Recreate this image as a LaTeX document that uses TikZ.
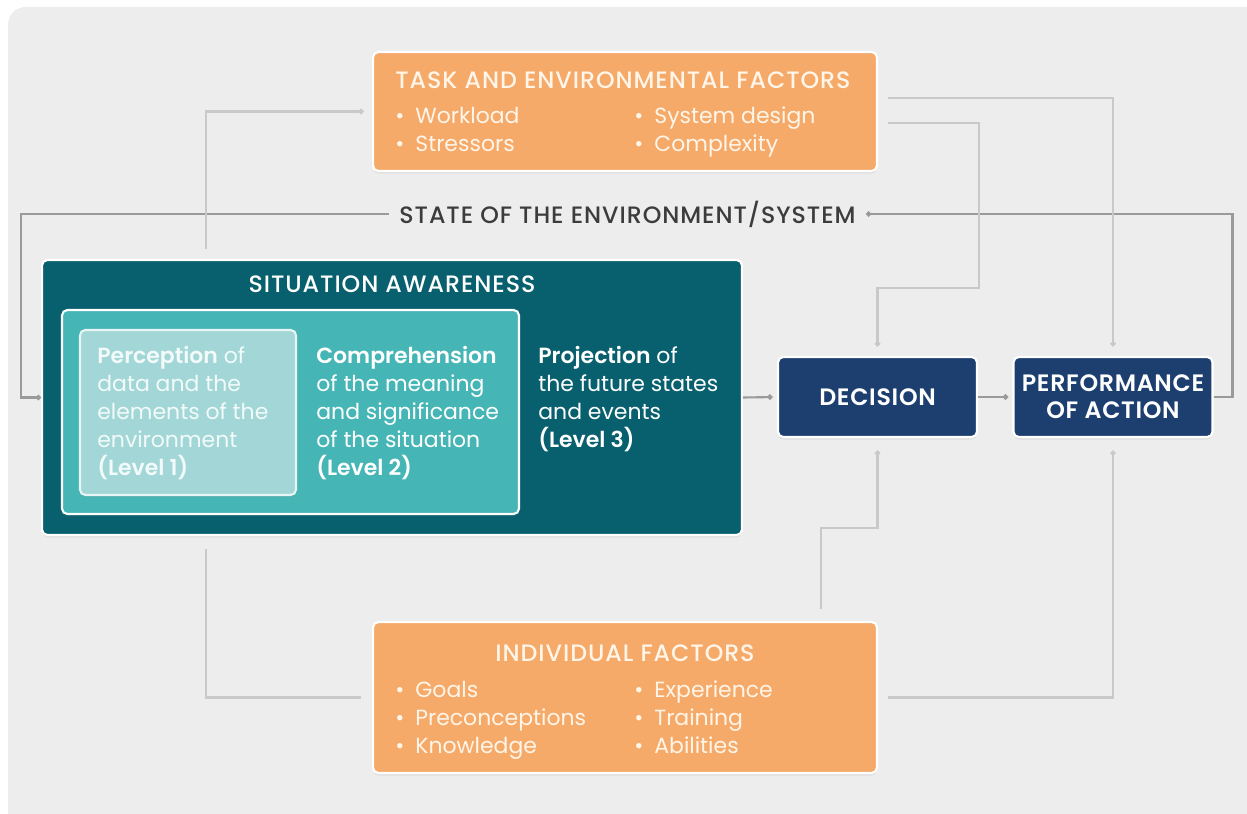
\documentclass[tikz,border=0pt]{standalone}
\usepackage{fontspec}
\setmainfont{Poppins}
\newfontfamily\mediumfont[LetterSpace=4]{Poppins Medium}
\newfontfamily\semifont{Poppins SemiBold}
\newfontfamily\semicaps[LetterSpace=3]{Poppins SemiBold}
\usetikzlibrary{positioning,calc,arrows.meta,shadows}
\definecolor{panel_grey}{HTML}{EDEDED}
\definecolor{factor_orange}{HTML}{F5AA6A}
\definecolor{factor_text}{HTML}{FFF5E8}
\definecolor{sa_teal}{HTML}{08606E}
\definecolor{comp_teal}{HTML}{45B6B5}
\definecolor{perc_teal}{HTML}{A3D6D6}
\definecolor{perc_text}{HTML}{F2FAFA}
\definecolor{deci_navy}{HTML}{1C3F70}
\definecolor{line_dark}{HTML}{9A9A9A}
\definecolor{line_light}{HTML}{C9C9C9}
\definecolor{label_grey}{HTML}{3C3C3C}
\tikzset{
  card/.style={draw=white, line width=1.2pt, rounded corners=3pt, inner sep=0pt,
    drop shadow={opacity=0.12, shadow xshift=0pt, shadow yshift=-1.5pt}},
  factorbox/.style={card, fill=factor_orange, minimum width=10.08cm},
  factortitle/.style={inner sep=0pt, text=factor_text, font=\mediumfont\fontsize{13.5}{16}\selectfont},
  factoritem/.style={inner sep=0pt, text=factor_text, anchor=base west},
  leveltext/.style={inner sep=0pt, align=left, text=white, anchor=north west},
  decibox/.style={card, fill=deci_navy, minimum width=3.98cm, minimum height=1.6cm,
    text=white, align=center, font=\semicaps\fontsize{13.5}{15.4}\selectfont},
  statelabel/.style={inner xsep=0.2cm, inner ysep=0pt, text=label_grey,
    font=\mediumfont\fontsize{13.5}{16}\selectfont},
  link/.style={line_light, line width=1.2pt},
  mainlink/.style={line_dark, line width=1.2pt},
  dot/.style={-{Circle[length=3pt]}}
}
\begin{document}
\begin{tikzpicture}[x=0.02cm, y=-0.02cm, font=\fontsize{12.5}{15.94}\selectfont]
\useasboundingbox (0,0) rectangle (1247,814);

% grey panel behind everything
\fill[panel_grey, rounded corners=10pt] (8,7) rectangle (1265,835);

% task and environmental factors
\node[factorbox, minimum height=2.38cm] (task) at (625,111.5) {};
\node[factortitle, anchor=base west] (task title) at (395,89) {TASK AND ENVIRONMENTAL FACTORS};
\node[factoritem] (workload) at (395,124) {•\enspace Workload};
\node[factoritem] (stressors) at (395,152) {•\enspace Stressors};
\node[factoritem] (sysdesign) at (634,124) {•\enspace System design};
\node[factoritem] (complexity) at (634,152) {•\enspace Complexity};

% state label on the loop
\node[statelabel] (state) at (627.5,214) {STATE OF THE ENVIRONMENT/SYSTEM};

% situation awareness with its three levels
\node[card, fill=sa_teal, minimum width=14cm, minimum height=5.5cm] (sa) at (392,397.5) {};
\node[factortitle, text=white] (sa title) at (392,284) {SITUATION AWARENESS};
\node[card, fill=comp_teal, minimum width=9.14cm, minimum height=4.08cm] (comp) at (290.5,412) {};
\node[card, fill=perc_teal, draw=white!75!perc_teal, minimum width=4.32cm, minimum height=3.3cm] (perc) at (188,412.5) {};
\node[leveltext, text=perc_text] (perc text) at (97,346)
  {{\semifont Perception} of\\data and the\\elements of the\\environment\\{\semifont (Level 1)}};
\node[leveltext] (comp text) at (316,346)
  {{\semifont Comprehension}\\of the meaning\\and significance\\of the situation\\{\semifont (Level 2)}};
\node[leveltext] (proj text) at (538,346)
  {{\semifont Projection} of\\the future states\\and events\\{\semifont (Level 3)}};

% decision and action
\node[decibox] (decision) at (877.5,397) {DECISION};
\node[decibox] (perf) at (1113,397) {PERFORMANCE\\OF ACTION};

% individual factors
\node[factorbox, minimum height=3.02cm] (indiv) at (625,697.5) {};
\node[factortitle, anchor=base] (indiv title) at (625,661) {INDIVIDUAL FACTORS};
\node[factoritem] (goals) at (395,697) {•\enspace Goals};
\node[factoritem] (precon) at (395,725) {•\enspace Preconceptions};
\node[factoritem] (knowledge) at (395,753) {•\enspace Knowledge};
\node[factoritem] (experience) at (634,697) {•\enspace Experience};
\node[factoritem] (training) at (634,725) {•\enspace Training};
\node[factoritem] (abilities) at (634,753) {•\enspace Abilities};

% feedback loop through the environment
\draw[mainlink, dot] (perf.east) -- ++(19,0) |- (state.east);
\draw[mainlink, dot] (state.west) -| ($(sa.west)+(-20,0)$) -- (sa.west);
\draw[mainlink, dot, shorten >=2.5pt] (sa.east) -- (decision.west);
\draw[mainlink, dot, shorten >=2.5pt] (decision.east) -- (perf.west);

% task factors links
\draw[link, dot, shorten <=5.7pt, shorten >=4.8pt] ($(sa.north west)+(165,0)$) |- (task.west);
\draw[link, dot, shorten <=5.7pt, shorten >=5.4pt] ($(task.east)+(0,-13.5)$) -| (perf.north);
\draw[link, dot, shorten <=5.7pt, shorten >=5.4pt] ($(task.east)+(0,11.5)$) -- ++(101,0)
  |- ($(decision.north)+(0,-68)$) -- (decision.north);

% individual factors links
\draw[link, dot, shorten <=6.8pt, shorten >=7.1pt] ($(indiv.north west)+(449,0)$)
  |- ($(decision.south)+(0,90)$) -- (decision.south);
\draw[link, dot, shorten <=5.7pt, shorten >=7.1pt] (indiv.east) -| (perf.south);
\draw[link, shorten <=6.3pt, shorten >=7.4pt] (indiv.west) -| ($(sa.south west)+(165,0)$);

\end{tikzpicture}
\end{document}
